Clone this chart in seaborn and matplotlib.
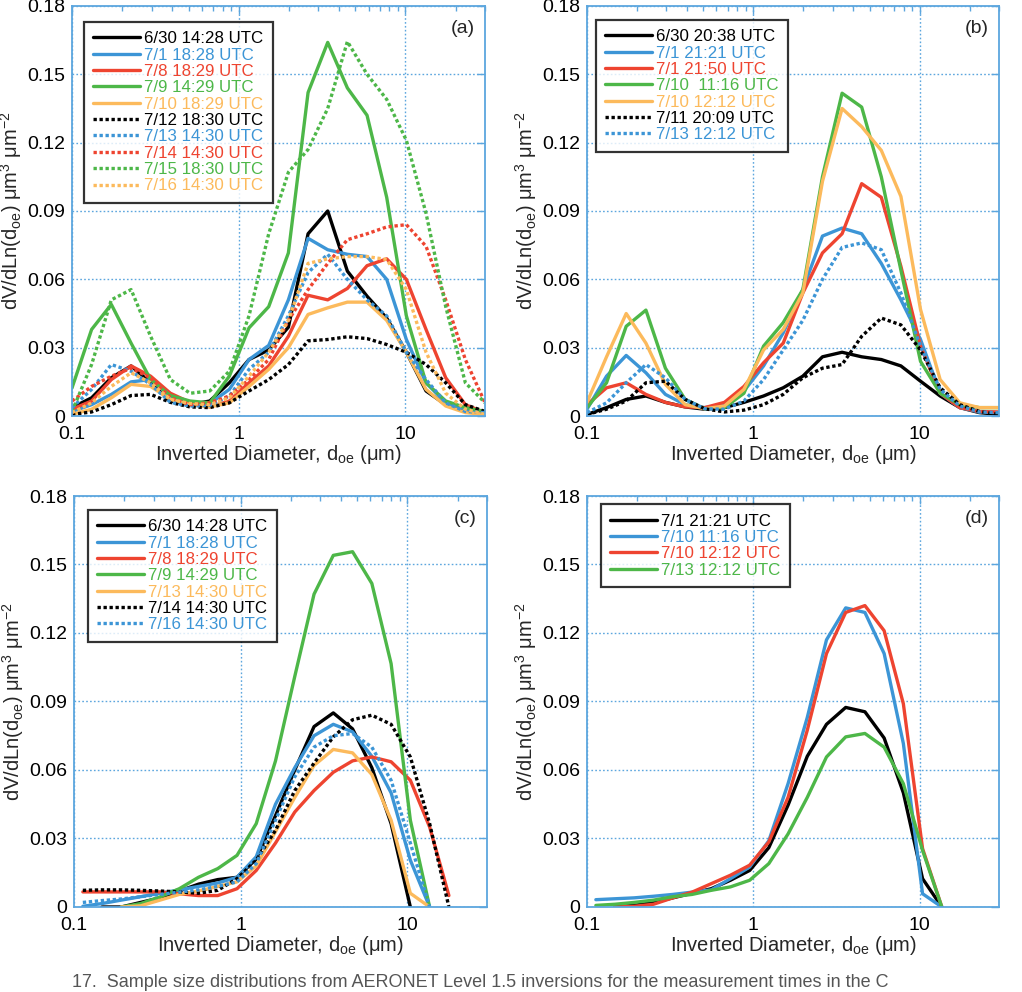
import numpy as np
import pandas as pd
import matplotlib
matplotlib.use("Agg")
import matplotlib.pyplot as plt
import seaborn as sns
from matplotlib.ticker import LogLocator, FixedLocator, NullFormatter, FixedFormatter

sns.set_theme(style="white")
plt.rcParams['font.family'] = ['Liberation Sans', 'DejaVu Sans']
plt.rcParams['mathtext.fontset'] = 'custom'
plt.rcParams['mathtext.rm'] = 'Liberation Sans'
plt.rcParams['mathtext.it'] = 'Liberation Sans'

# ---------------- data ----------------
# diameter bins (um)
diam_ab = [0.100, 0.131, 0.172, 0.226, 0.296, 0.389, 0.510, 0.670, 0.878, 1.152, 1.512,
           1.984, 2.604, 3.416, 4.482, 5.880, 7.714, 10.12, 13.28, 17.43, 22.86, 30.0]
diam_cd = [0.113, 0.147, 0.192, 0.251, 0.328, 0.428, 0.558, 0.728, 0.950, 1.239, 1.617,
           2.110, 2.753, 3.592, 4.687, 6.116, 7.980, 10.41, 13.59, 17.73]

nan = np.nan

# panel (a)
labels_a = ["6/30 14:28 UTC", "7/1 18:28 UTC", "7/8 18:29 UTC", "7/9 14:29 UTC", "7/10 18:29 UTC",
            "7/12 18:30 UTC", "7/13 14:30 UTC", "7/14 14:30 UTC", "7/15 18:30 UTC", "7/16 14:30 UTC"]
a_0630 = [0.0037, 0.008, 0.0168, 0.022, 0.0146, 0.0066, 0.005, 0.0066, 0.0146, 0.0248, 0.029,
          0.039, 0.080, 0.090, 0.0636, 0.0526, 0.043, 0.028, 0.011, 0.005, 0.002, 0.0015]
a_0701 = [0.002, 0.005, 0.0095, 0.015, 0.016, 0.0088, 0.006, 0.0055, 0.0117, 0.0248, 0.031,
          0.051, 0.078, 0.073, 0.071, 0.070, 0.060, 0.0336, 0.0146, 0.0058, 0.003, 0.0015]
a_0708 = [0.003, 0.0066, 0.016, 0.022, 0.0175, 0.010, 0.006, 0.004, 0.0066, 0.0146, 0.022,
          0.035, 0.053, 0.051, 0.056, 0.066, 0.069, 0.060, 0.038, 0.0168, 0.005, 0.0015]
a_0709 = [0.0124, 0.038, 0.049, 0.032, 0.016, 0.009, 0.0066, 0.0058, 0.0175, 0.0387, 0.048,
          0.0716, 0.142, 0.164, 0.144, 0.132, 0.096, 0.044, 0.0146, 0.0066, 0.0037, 0.002]
a_0710 = [0.0007, 0.003, 0.008, 0.0139, 0.013, 0.0073, 0.005, 0.004, 0.0058, 0.013, 0.0205,
          0.030, 0.0446, 0.0475, 0.050, 0.050, 0.042, 0.028, 0.0117, 0.0044, 0.0015, 0.0007]
a_0712 = [0.0007, 0.0018, 0.005, 0.009, 0.0095, 0.006, 0.004, 0.0037, 0.0058, 0.011, 0.016,
          0.0226, 0.033, 0.0336, 0.0348, 0.034, 0.0314, 0.028, 0.0226, 0.0146, 0.005, 0.002]
a_0713 = [0.0037, 0.0117, 0.0226, 0.0197, 0.0139, 0.006, 0.0044, 0.0047, 0.0088, 0.0205, 0.028,
          0.044, 0.063, 0.071, 0.060, 0.051, 0.044, 0.028, 0.016, 0.0058, 0.002, 0.0015]
a_0714 = [0.0066, 0.013, 0.0175, 0.021, 0.0168, 0.008, 0.005, 0.0058, 0.0088, 0.016, 0.0248,
          0.042, 0.0555, 0.067, 0.0774, 0.080, 0.083, 0.084, 0.0745, 0.051, 0.0248, 0.0058]
a_0715 = [0.002, 0.0226, 0.051, 0.0555, 0.035, 0.016, 0.010, 0.011, 0.0197, 0.044, 0.080,
          0.107, 0.117, 0.135, 0.1644, 0.150, 0.139, 0.121, 0.089, 0.048, 0.0146, 0.0058]
a_0716 = [0.0015, 0.0058, 0.013, 0.019, 0.0146, 0.0073, 0.0055, 0.005, 0.008, 0.0175, 0.028,
          0.042, 0.067, 0.069, 0.070, 0.070, 0.0687, 0.0555, 0.028, 0.010, 0.003, 0.0007]

# panel (b)
labels_b = ["6/30 20:38 UTC", "7/1 21:21 UTC", "7/1 21:50 UTC", "7/10  11:16 UTC",
            "7/10 12:12 UTC", "7/11 20:09 UTC", "7/13 12:12 UTC"]
b_0630 = [0.0007, 0.0037, 0.0073, 0.0088, 0.006, 0.004, 0.003, 0.0037, 0.006, 0.0088, 0.0124,
          0.0175, 0.026, 0.028, 0.026, 0.0248, 0.022, 0.0153, 0.0088, 0.0037, 0.0015, 0.0007]
b_0701a = [0.003, 0.0175, 0.0266, 0.019, 0.0095, 0.005, 0.0037, 0.005, 0.011, 0.022, 0.0365,
           0.0555, 0.079, 0.0825, 0.080, 0.067, 0.051, 0.0336, 0.010, 0.0037, 0.0018, 0.0015]
b_0701b = [0.005, 0.0124, 0.0146, 0.0095, 0.006, 0.004, 0.0037, 0.006, 0.013, 0.0234, 0.032,
           0.054, 0.0716, 0.080, 0.102, 0.096, 0.0657, 0.0307, 0.010, 0.0037, 0.002, 0.0018]
b_0710a = [0.0037, 0.0146, 0.0394, 0.0465, 0.021, 0.0073, 0.0032, 0.0037, 0.010, 0.0307, 0.041,
           0.0555, 0.105, 0.1417, 0.1356, 0.105, 0.064, 0.024, 0.010, 0.005, 0.0037, 0.0037]
b_0710b = [0.006, 0.026, 0.045, 0.032, 0.0139, 0.005, 0.0032, 0.0044, 0.0117, 0.029, 0.038,
           0.054, 0.103, 0.135, 0.127, 0.1166, 0.0964, 0.0468, 0.016, 0.0058, 0.0037, 0.0037]
b_0711 = [0.0007, 0.003, 0.0066, 0.0146, 0.0153, 0.0073, 0.0032, 0.0018, 0.0026, 0.005, 0.0095,
          0.0168, 0.021, 0.0226, 0.035, 0.043, 0.040, 0.029, 0.0124, 0.005, 0.002, 0.0007]
b_0713 = [0.0015, 0.0058, 0.0146, 0.0226, 0.0168, 0.0073, 0.0032, 0.003, 0.0066, 0.016, 0.029,
          0.042, 0.060, 0.074, 0.076, 0.073, 0.054, 0.0307, 0.0117, 0.0044, 0.0018, 0.0015]

# panel (c)
labels_c = ["6/30 14:28 UTC", "7/1 18:28 UTC", "7/8 18:29 UTC", "7/9 14:29 UTC",
            "7/13 14:30 UTC", "7/14 14:30 UTC", "7/16 14:30 UTC"]
c_0630 = [nan, 0.0, 0.0, 0.002, 0.004, 0.007, 0.010, 0.012, 0.013, 0.021, 0.040,
          0.060, 0.079, 0.085, 0.078, 0.061, 0.0365, 0.0, nan, nan]
c_0701 = [0.0003, 0.0015, 0.003, 0.0045, 0.006, 0.0075, 0.009, 0.0105, 0.013, 0.022, 0.045,
          0.061, 0.075, 0.080, 0.0767, 0.066, 0.050, 0.0205, 0.0, nan]
c_0708 = [0.0066, 0.0066, 0.0066, 0.0066, 0.0066, 0.0058, 0.005, 0.005, 0.008, 0.016, 0.028,
          0.0416, 0.051, 0.059, 0.064, 0.0657, 0.0636, 0.0555, 0.035, 0.005]
c_0709 = [nan, nan, 0.0, 0.0015, 0.0044, 0.008, 0.013, 0.0168, 0.0226, 0.0365, 0.064,
          0.101, 0.137, 0.154, 0.1556, 0.1417, 0.1066, 0.038, 0.0, nan]
c_0713 = [nan, nan, 0.0, 0.0005, 0.003, 0.0055, 0.007, 0.009, 0.011, 0.018, 0.033,
          0.048, 0.062, 0.069, 0.0675, 0.058, 0.038, 0.006, 0.0, nan]
c_0714 = [0.0073, 0.0075, 0.0075, 0.0073, 0.007, 0.0066, 0.006, 0.0073, 0.0124, 0.0205, 0.0336,
          0.051, 0.063, 0.0745, 0.082, 0.084, 0.080, 0.0657, 0.0365, 0.0]
c_0716 = [0.002, 0.0028, 0.0035, 0.0045, 0.0055, 0.0065, 0.0075, 0.009, 0.011, 0.019, 0.038,
          0.057, 0.070, 0.075, 0.076, 0.070, 0.0555, 0.028, 0.0, nan]

# panel (d)
labels_d = ["7/1 21:21 UTC", "7/10 11:16 UTC", "7/10 12:12 UTC", "7/13 12:12 UTC"]
d_0701 = [nan, 0.0, 0.0007, 0.002, 0.004, 0.006, 0.008, 0.0117, 0.016, 0.026, 0.0446,
          0.066, 0.080, 0.0874, 0.0855, 0.074, 0.050, 0.0124, 0.0, nan]
d_0710a = [0.0032, 0.0036, 0.0040, 0.0047, 0.0055, 0.0065, 0.0075, 0.0124, 0.0175, 0.029, 0.054,
           0.083, 0.117, 0.131, 0.129, 0.111, 0.0716, 0.0058, 0.0, nan]
d_0710b = [nan, 0.0, 0.0003, 0.0012, 0.004, 0.0065, 0.0102, 0.0139, 0.0183, 0.0285, 0.048,
           0.0774, 0.111, 0.129, 0.132, 0.121, 0.089, 0.0256, 0.0, nan]
d_0713 = [0.0007, 0.0012, 0.002, 0.003, 0.0045, 0.0055, 0.0073, 0.0088, 0.0117, 0.019, 0.032,
          0.048, 0.0657, 0.0745, 0.076, 0.070, 0.054, 0.0248, 0.0, nan]

y_ticks = [0, 0.03, 0.06, 0.09, 0.12, 0.15, 0.18]
y_ticklabels = ["0", "0.03", "0.06", "0.09", "0.12", "0.15", "0.18"]
x_ticks = [0.1, 1, 10]
x_ticklabels = ["0.1", "1", "10"]

caption = "17.  Sample size distributions from AERONET Level 1.5 inversions for the measurement times in the C"

# ---------------- style ----------------
BLACK = "#000000"
BLUE = "#3C95D6"
RED = "#EE4430"
GREEN = "#4DB748"
ORANGE = "#FCBA5C"
AXC = "#5CA6DE"

SOLID = "-"
DOT = (0, (1.0, 0.8))

panels = [
    ("(a)", diam_ab, labels_a,
     [a_0630, a_0701, a_0708, a_0709, a_0710, a_0712, a_0713, a_0714, a_0715, a_0716],
     [BLACK, BLUE, RED, GREEN, ORANGE, BLACK, BLUE, RED, GREEN, ORANGE],
     [SOLID] * 5 + [DOT] * 5, [0.0705, 0.5806, 0.4041, 0.4134], (0.029, 0.961)),
    ("(b)", diam_ab, labels_b,
     [b_0630, b_0701a, b_0701b, b_0710a, b_0710b, b_0711, b_0713],
     [BLACK, BLUE, RED, GREEN, ORANGE, BLACK, BLUE],
     [SOLID] * 5 + [DOT] * 2, [0.5744, 0.5806, 0.4031, 0.4134], (0.022, 0.966)),
    ("(c)", diam_cd, labels_c,
     [c_0630, c_0701, c_0708, c_0709, c_0713, c_0714, c_0716],
     [BLACK, BLUE, RED, GREEN, ORANGE, BLACK, BLUE],
     [SOLID] * 5 + [DOT] * 2, [0.0724, 0.0857, 0.4041, 0.4143], (0.034, 0.966)),
    ("(d)", diam_cd, labels_d,
     [d_0701, d_0710a, d_0710b, d_0713],
     [BLACK, BLUE, RED, GREEN],
     [SOLID] * 4, [0.5744, 0.0857, 0.4031, 0.4143], (0.034, 0.980)),
]

fig = plt.figure(figsize=(10.22, 9.92), dpi=100)

for tag, xs, labels, series, colors, styles, rect, legpos in panels:
    ax = fig.add_axes(rect)
    for lab, ys, col, ls in zip(labels, series, colors, styles):
        df = pd.DataFrame({"d": xs, "v": ys}).dropna()
        sns.lineplot(data=df, x="d", y="v", ax=ax, color=col, linewidth=2.4,
                     linestyle=ls, label=lab, sort=False, estimator=None)
    ax.set_xscale("log")
    ax.set_xlim(0.1, 30)
    ax.set_ylim(0, 0.18)
    ax.xaxis.set_major_locator(FixedLocator(x_ticks))
    ax.xaxis.set_major_formatter(FixedFormatter(x_ticklabels))
    ax.xaxis.set_minor_locator(LogLocator(base=10, subs=np.arange(2, 10)))
    ax.xaxis.set_minor_formatter(NullFormatter())
    ax.yaxis.set_major_locator(FixedLocator(y_ticks))
    ax.yaxis.set_major_formatter(FixedFormatter(y_ticklabels))
    ax.tick_params(which="both", direction="in", top=True, right=True,
                   color=AXC, labelsize=14, labelcolor="black")
    ax.tick_params(which="major", length=6, width=1)
    ax.tick_params(which="minor", length=3.5, width=1)
    ax.tick_params(axis="x", pad=7)
    ax.tick_params(axis="y", pad=5)
    ax.grid(True, which="major", color=AXC, linestyle=(0, (1.2, 1.6)), linewidth=1.0)
    for s in ax.spines.values():
        s.set_color(AXC)
        s.set_linewidth(1.3)
    ax.set_xlabel("Inverted Diameter, d$_{\\mathrm{oe}}$ (\u03bcm)", fontsize=14.5, labelpad=0)
    ax.set_ylabel("dV/dLn(d$_{\\mathrm{oe}}$) \u03bcm$^{3}$ \u03bcm$^{-2}$", fontsize=14.5, labelpad=2)
    ax.text(0.975, 0.965, tag, transform=ax.transAxes, ha="right", va="top", fontsize=14)
    leg = ax.legend(loc="upper left", bbox_to_anchor=legpos,
                    fontsize=12.2, frameon=True, fancybox=False, edgecolor="black",
                    handlelength=2.75, handletextpad=0.25, labelspacing=0.08,
                    borderpad=0.55, borderaxespad=0.0)
    leg.get_frame().set_linewidth(1.6)
    for txt, col in zip(leg.get_texts(), colors):
        txt.set_color(col)

fig.text(0.07, 0.001, caption, fontsize=13, color="#555555", va="bottom")

fig.savefig("out.png", dpi=100)
